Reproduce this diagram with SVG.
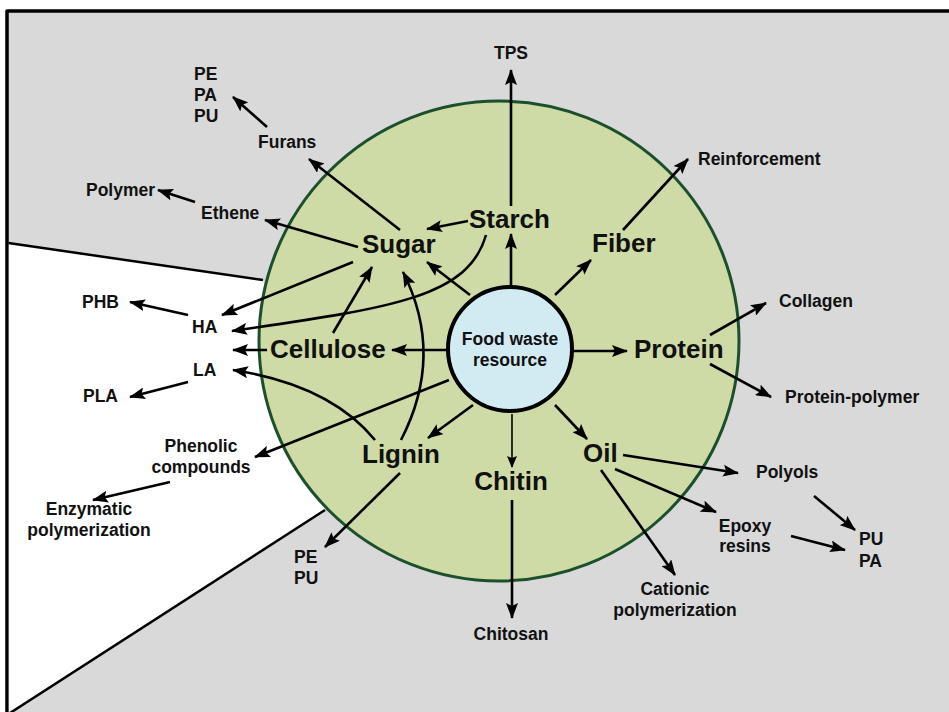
<svg xmlns="http://www.w3.org/2000/svg" width="949" height="712" viewBox="0 0 949 712">
<style>
.t{font-family:"Liberation Sans",Arial,sans-serif;font-weight:bold;fill:#111;}
.s{font-size:17.5px;}
.b{font-size:26px;}
.m{text-anchor:middle;}
.c{fill:none;stroke:#000;stroke-width:2.6;marker-end:url(#ah);}
.thin{fill:none;stroke:#000;stroke-width:1.6;marker-end:url(#ahs);}
</style>
<defs>
<marker id="ah" markerUnits="userSpaceOnUse" markerWidth="16" markerHeight="12" refX="15" refY="6" orient="auto" viewBox="0 0 16 12">
<path d="M0,0 L16,6 L0,12 L3,6 z" fill="#000"/>
</marker>
<marker id="ahs" markerUnits="userSpaceOnUse" markerWidth="12" markerHeight="10" refX="11" refY="5" orient="auto" viewBox="0 0 12 10">
<path d="M0,0 L12,5 L0,10 L2,5 z" fill="#000"/>
</marker>
</defs>
<g id="background">
<rect x="0" y="0" width="949" height="712" fill="#ffffff"/>
<rect x="7" y="11" width="960" height="720" fill="#d9d9d9" stroke="#000" stroke-width="3"/>
<polygon points="8.5,243 263,280 325,510 8.5,714" fill="#ffffff"/>
<line x1="8.5" y1="243" x2="263" y2="280" stroke="#000" stroke-width="2.5"/>
<line x1="325" y1="510" x2="8.5" y2="714" stroke="#000" stroke-width="2.5"/>
<path d="M7,11 H949" stroke="#000" stroke-width="3"/>
<path d="M7,11 V712" stroke="#000" stroke-width="3"/>
</g>
<g id="outer-circle">
<circle cx="499" cy="341" r="240" fill="#cfdba6" stroke="#1c4f2c" stroke-width="3"/>
</g>
<g id="connectors">
<line class="c" x1="511" y1="206" x2="511" y2="70"/>
<line class="c" x1="267" y1="127" x2="233" y2="97"/>
<line class="c" x1="400" y1="230" x2="309" y2="159"/>
<line class="c" x1="195" y1="202" x2="158" y2="190"/>
<line class="c" x1="358" y1="247" x2="265" y2="220"/>
<line class="c" x1="468" y1="221" x2="427" y2="229"/>
<line class="c" x1="511" y1="286" x2="511" y2="234"/>
<line class="c" x1="555" y1="295" x2="591" y2="260"/>
<line class="c" x1="623" y1="230" x2="688" y2="159"/>
<line class="c" x1="188" y1="315" x2="130" y2="302"/>
<line class="c" x1="353" y1="262" x2="222" y2="315"/>
<path class="c" d="M486,235 C468,298 390,308 232,331"/>
<line class="c" x1="333" y1="333" x2="372" y2="267"/>
<line class="c" x1="470" y1="295" x2="427" y2="262"/>
<path class="c" d="M401,440 Q445,355 403,272"/>
<line class="c" x1="267" y1="350" x2="233" y2="350"/>
<line class="c" x1="448" y1="350" x2="392" y2="350"/>
<line class="c" x1="572" y1="351" x2="627" y2="351"/>
<path class="c" d="M375,440 Q330,385 233,370"/>
<line class="c" x1="188" y1="382" x2="130" y2="397"/>
<line class="c" x1="449" y1="380" x2="255" y2="457"/>
<line class="c" x1="473" y1="405" x2="428" y2="438"/>
<line class="c" x1="170" y1="482" x2="93" y2="500"/>
<line class="c" x1="400" y1="473" x2="325" y2="547"/>
<line class="c" x1="710" y1="335" x2="766" y2="303"/>
<line class="c" x1="710" y1="364" x2="771" y2="397"/>
<line class="thin" x1="512" y1="414" x2="512" y2="467"/>
<line class="c" x1="512" y1="500" x2="512" y2="618"/>
<line class="c" x1="555" y1="405" x2="587" y2="439"/>
<line class="c" x1="623" y1="455" x2="738" y2="473"/>
<line class="c" x1="615" y1="469" x2="716" y2="512"/>
<line class="c" x1="601" y1="470" x2="675" y2="575"/>
<line class="c" x1="814" y1="496" x2="855" y2="530"/>
<line class="c" x1="791" y1="536" x2="845" y2="550"/>
</g>
<g id="food-waste-resource">
<circle cx="510" cy="349" r="62" fill="#d2eaf2" stroke="#000" stroke-width="4"/>
<text class="t s m" x="510" y="345">Food waste</text>
<text class="t s m" x="510" y="366">resource</text>
</g>
<g id="sugar"><text class="t b" x="362" y="253">Sugar</text></g>
<g id="starch"><text class="t b" x="469" y="228">Starch</text></g>
<g id="fiber"><text class="t b" x="592" y="252">Fiber</text></g>
<g id="cellulose"><text class="t b" x="270" y="358">Cellulose</text></g>
<g id="protein"><text class="t b" x="634" y="358">Protein</text></g>
<g id="lignin"><text class="t b" x="362" y="463">Lignin</text></g>
<g id="oil"><text class="t b" x="583" y="462">Oil</text></g>
<g id="chitin"><text class="t b m" x="511" y="490">Chitin</text></g>
<g id="tps"><text class="t s m" x="511" y="59">TPS</text></g>
<g id="pe-pa-pu"><text class="t s" x="194" y="80">PE</text><text class="t s" x="194" y="101">PA</text><text class="t s" x="194" y="122">PU</text></g>
<g id="furans"><text class="t s" x="258" y="148">Furans</text></g>
<g id="polymer"><text class="t s" x="86" y="196">Polymer</text></g>
<g id="ethene"><text class="t s" x="201" y="219">Ethene</text></g>
<g id="reinforcement"><text class="t s" x="698" y="165">Reinforcement</text></g>
<g id="collagen"><text class="t s" x="779" y="307">Collagen</text></g>
<g id="phb"><text class="t s" x="82" y="308">PHB</text></g>
<g id="ha"><text class="t s" x="192" y="333">HA</text></g>
<g id="la"><text class="t s" x="193" y="376">LA</text></g>
<g id="pla"><text class="t s" x="83" y="402">PLA</text></g>
<g id="protein-polymer"><text class="t s" x="785" y="403">Protein-polymer</text></g>
<g id="phenolic"><text class="t s m" x="201" y="452">Phenolic</text><text class="t s m" x="201" y="473">compounds</text></g>
<g id="enzymatic"><text class="t s m" x="89" y="515">Enzymatic</text><text class="t s m" x="89" y="536">polymerization</text></g>
<g id="polyols"><text class="t s" x="756" y="478">Polyols</text></g>
<g id="epoxy"><text class="t s m" x="745" y="532">Epoxy</text><text class="t s m" x="745" y="552">resins</text></g>
<g id="pu-pa"><text class="t s" x="859" y="545">PU</text><text class="t s" x="859" y="567">PA</text></g>
<g id="pe-pu"><text class="t s" x="294" y="563">PE</text><text class="t s" x="294" y="584">PU</text></g>
<g id="cationic"><text class="t s m" x="675" y="595">Cationic</text><text class="t s m" x="675" y="616">polymerization</text></g>
<g id="chitosan"><text class="t s m" x="511" y="640">Chitosan</text></g>
</svg>
